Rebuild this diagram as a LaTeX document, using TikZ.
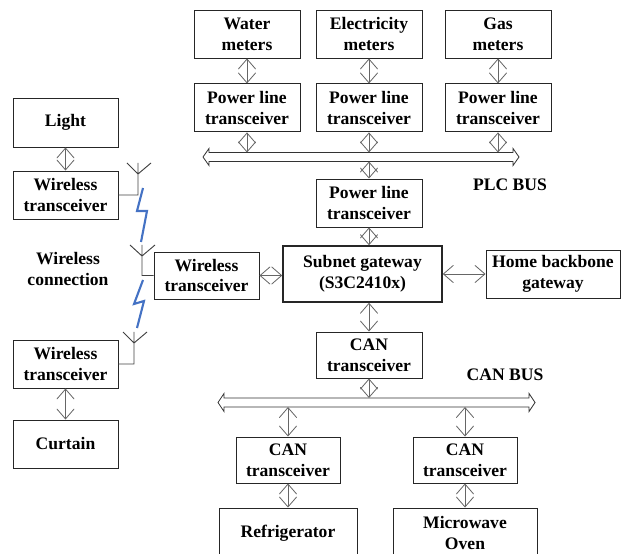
\documentclass[tikz,border=0pt]{standalone}
\usepackage{fontspec}
\setmainfont{Liberation Serif}
\usepackage{tikz}
\usetikzlibrary{arrows.meta}
\usetikzlibrary{positioning}
\definecolor{boltblue}{RGB}{68,114,196}
\tikzset{
  blk/.style = {draw=black!85, fill=white, align=center, inner sep=0pt,
    line width=0.8pt, font=\bfseries\fontsize{15}{17.9}\selectfont,
    minimum width=3.18cm, minimum height=1.44cm},% plain box
  blk_gw/.style = {blk, line width=1.3pt, minimum width=4.77cm,
    minimum height=1.68cm},% subnet gateway
  lbl/.style = {align=center, inner sep=0pt,
    font=\bfseries\fontsize{15}{17.9}\selectfont},
  link/.style = {draw=black!60, line width=0.7pt,
    {Straight Barb[length=3mm,width=5.2mm]}-{Straight Barb[length=3mm,width=5.2mm]}},
  bus/.style = {draw=black!80, line width=0.7pt},
  ant/.style = {draw=black!75, line width=0.8pt},
  bolt/.style = {draw=boltblue, line width=1.8pt, line join=miter}
}

\begin{document}
\begin{tikzpicture}[x=0.3mm,y=-0.3mm]
\useasboundingbox (0,0) rectangle (621,554);
\clip (0,0) rectangle (621,554);

% PLC side
\node [blk] (water) at (247,34) {Water\\meters};
\node [blk] (elec) at (369,34) {Electricity\\meters};
\node [blk] (gas) at (498,34) {Gas\\meters};
\node [blk, below=7.5mm of water] (plw) {Power line\\transceiver};
\node [blk, below=7.5mm of elec] (ple) {Power line\\transceiver};
\node [blk, below=7.5mm of gas] (plg) {Power line\\transceiver};
\node [blk] (plm) at (369,203) {Power line\\transceiver};

% gateway row
\node [blk_gw] (gw) at (362.5,274) {Subnet gateway\\(S3C2410x)};
\node [blk, minimum width=3.15cm, minimum height=1.41cm] (wlm) at (206.5,275.5) {Wireless\\transceiver};
\node [blk, minimum width=4.02cm] (home) at (553,274) {Home backbone\\gateway};

% CAN side
\node [blk, minimum height=1.38cm] (canm) at (369,355) {CAN\\transceiver};
\node [blk, minimum width=3.12cm, minimum height=1.38cm] (canl) at (288,460) {CAN\\transceiver};
\node [blk, minimum width=3.12cm, minimum height=1.38cm] (canr) at (465,460) {CAN\\transceiver};
\node [blk, minimum width=4.14cm, minimum height=1.5cm] (fridge) at (288,533) {Refrigerator};
\node [blk, minimum width=4.32cm, minimum height=1.5cm] (oven) at (465,533) {Microwave\\Oven};

% wireless side
\node [blk, minimum width=3.15cm, minimum height=1.47cm] (light) at (65.5,122.5) {Light};
\node [blk, minimum width=3.15cm] (wlt) at (65.5,195) {Wireless\\transceiver};
\node [blk, minimum width=3.15cm] (wlb) at (65.5,364) {Wireless\\transceiver};
\node [blk, minimum width=3.15cm] (curtain) at (65.5,444) {Curtain};

\node [lbl] (plclbl) at (510,185) {PLC BUS};
\node [lbl] (canlbl) at (505,375) {CAN BUS};
\node [lbl] (wlclbl) at (68,269) {Wireless\\connection};

% buses
\draw[bus] (203,157) -- ++(6,-8.5) -- ++(0,4) -- (513,152.5) -- ++(0,-4)
  -- (519,157) -- ++(-6,8.5) -- ++(0,-4) -- (209,161.5) -- ++(0,4) -- cycle;
\coordinate (plctop) at (209,152.5);
\coordinate (plcbot) at (209,161.5);
\draw[bus] (218,402.5) -- ++(6,-9) -- ++(0,4.5) -- (529,398) -- ++(0,-4.5)
  -- (535,402.5) -- ++(-6,9) -- ++(0,-4.5) -- (224,407) -- ++(0,4.5) -- cycle;
\coordinate (cantop) at (224,398);
\coordinate (canbot) at (224,407);

% links
\draw[link] (water) -- (plw);
\draw[link] (elec) -- (ple);
\draw[link] (gas) -- (plg);
\draw[link] (plw.south) -- (plw.south |- plctop);
\draw[link] (ple.south) -- (ple.south |- plctop);
\draw[link] (plg.south) -- (plg.south |- plctop);
\draw[link] (plm.north |- plcbot) -- (plm.north);
\draw[link] (plm.south) -- (plm.south |- gw.north);
\draw[link] (wlm.east) -- (wlm.east -| gw.west);
\draw[link] (gw.east) -- (gw.east -| home.west);
\draw[link] (canm.north |- gw.south) -- (canm.north);
\draw[link] (canm.south) -- (canm.south |- cantop);
\draw[link] (canl.north |- canbot) -- (canl.north);
\draw[link] (canr.north |- canbot) -- (canr.north);
\draw[link] (canl) -- (fridge);
\draw[link] (canr) -- (oven);
\draw[link] (light) -- (wlt);
\draw[link] (wlb) -- (curtain);

% antennas
\coordinate (ant1) at (138,174);
\coordinate (ant2) at (142,256);
\coordinate (ant3) at (134,343);
\draw[ant] (wlt.east) -| (ant1) -- ++(-11,-11) (ant1) -- ++(13,-11) (ant1) -- ++(0,-11);
\draw[ant] (wlm.west) -| (ant2) -- ++(-12,-11) (ant2) -- ++(13,-11) (ant2) -- ++(0,-11);
\draw[ant] (wlb.east) -| (ant3) -- ++(-11,-11) (ant3) -- ++(13,-11) (ant3) -- ++(0,-11);

% radio links
\draw[bolt] (143,188) -- (137,211) -- (147,211) -- (141,242);
\draw[bolt] (143,280) -- (134,304) -- (144,301) -- (137,328);
\end{tikzpicture}
\end{document}
